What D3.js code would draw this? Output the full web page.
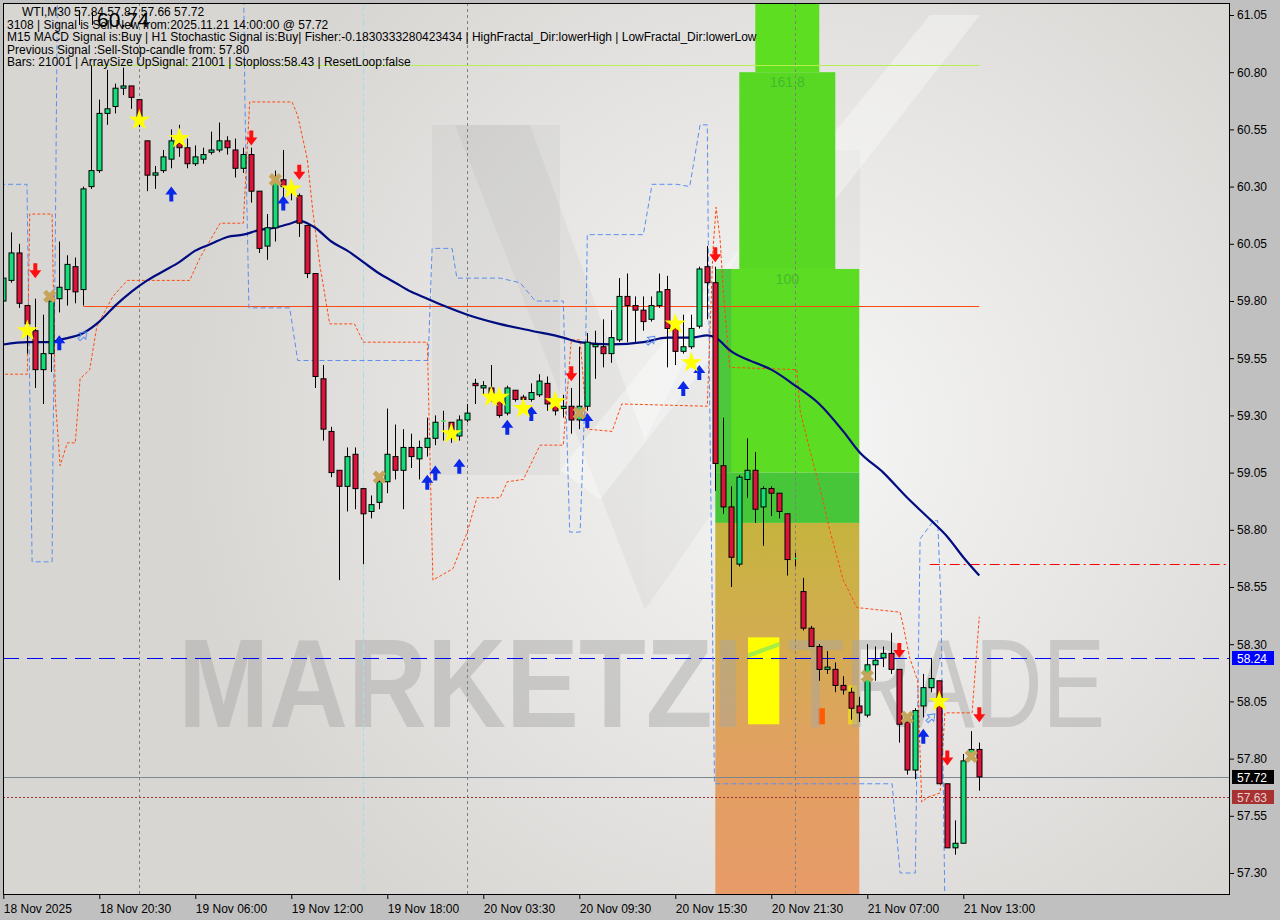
<!DOCTYPE html>
<html><head><meta charset="utf-8">
<script src="https://cdn.jsdelivr.net/npm/d3@7"></script>
<style>
body{margin:0;background:#c0c0c0;}
svg{display:block;font-family:"Liberation Sans",Arial,sans-serif;}
</style>
</head><body>
<svg id="c" width="1280" height="920"></svg>
<script>
// ---------------- DATA ----------------
const opens  = [59.80,59.89,60.01,59.78,59.67,59.50,59.57,59.81,59.85,59.95,59.85,60.30,60.37,60.62,60.65,60.73,60.74,60.68,60.50,60.35,60.37,60.42,60.49,60.47,60.40,60.42,60.45,60.46,60.50,60.46,60.38,60.44,60.28,60.04,60.12,60.33,60.30,60.26,60.13,59.92,59.46,59.23,59.06,58.99,59.13,58.98,58.88,58.92,59.01,59.12,59.06,59.16,59.11,59.16,59.20,59.27,59.27,59.21,59.28,59.44,59.42,59.42,59.38,59.31,59.41,59.38,59.37,59.39,59.44,59.35,59.33,59.34,59.28,59.34,59.60,59.60,59.57,59.63,59.82,59.78,59.76,59.72,59.78,59.85,59.68,59.58,59.60,59.69,59.95,59.88,59.08,58.90,58.65,59.02,59.06,58.90,58.98,58.96,58.87,58.67,58.53,58.37,58.29,58.19,58.19,58.12,58.09,58.03,57.99,58.21,58.24,58.26,58.19,57.96,57.75,58.03,58.11,58.14,57.69,57.41,57.43,57.82,57.84];
const highs  = [59.91,60.10,60.05,59.78,59.81,59.74,59.84,60.06,60.00,59.99,60.30,60.83,60.68,60.81,60.75,60.82,60.74,60.68,60.50,60.39,60.46,60.55,60.57,60.51,60.48,60.47,60.54,60.58,60.52,60.51,60.47,60.47,60.28,60.18,60.37,60.46,60.33,60.27,60.13,59.92,59.52,59.25,59.06,59.16,59.16,58.98,58.95,59.04,59.33,59.26,59.24,59.22,59.19,59.29,59.30,59.32,59.27,59.30,59.35,59.46,59.45,59.52,59.41,59.43,59.41,59.39,59.44,59.48,59.47,59.40,59.39,59.42,59.60,59.66,59.67,59.72,59.76,59.90,59.92,59.82,59.82,59.82,59.92,59.91,59.73,59.74,59.74,59.95,60.04,59.95,59.29,58.99,59.04,59.20,59.14,58.99,58.99,58.96,58.87,58.70,58.59,58.38,58.30,58.27,58.22,58.16,58.11,58.07,58.30,58.29,58.29,58.35,58.19,57.96,58.02,58.17,58.24,58.14,57.69,57.53,57.82,57.92,57.87];
const lows   = [59.78,59.88,59.77,59.57,59.42,59.35,59.49,59.75,59.78,59.79,59.78,60.29,60.36,60.57,60.62,60.70,60.64,60.56,60.28,60.29,60.36,60.38,60.43,60.38,60.39,60.40,60.44,60.45,60.44,60.34,60.36,60.23,60.01,59.98,60.06,60.23,60.24,60.08,59.90,59.42,59.19,59.03,58.58,58.88,58.89,58.65,58.85,58.89,58.96,59.02,58.89,59.07,59.02,59.12,59.17,59.19,59.18,59.19,59.27,59.35,59.39,59.36,59.29,59.30,59.36,59.34,59.36,59.38,59.32,59.30,59.29,59.22,59.24,59.32,59.46,59.51,59.53,59.62,59.62,59.62,59.67,59.71,59.77,59.51,59.52,59.57,59.59,59.68,59.72,58.97,58.87,58.55,58.64,58.94,58.83,58.73,58.86,58.85,58.60,58.64,58.36,58.29,58.14,58.17,58.09,58.08,57.97,57.96,57.98,58.14,58.20,58.17,57.87,57.73,57.71,57.98,58.09,57.69,57.41,57.38,57.43,57.81,57.66];
const closes = [59.90,60.01,59.79,59.70,59.50,59.57,59.80,59.86,59.96,59.84,60.29,60.37,60.62,60.64,60.73,60.74,60.69,60.60,60.35,60.36,60.43,60.50,60.47,60.40,60.43,60.44,60.46,60.50,60.47,60.38,60.44,60.28,60.03,60.12,60.33,60.30,60.29,60.14,59.92,59.47,59.24,59.05,58.99,59.12,58.98,58.87,58.91,59.01,59.13,59.06,59.16,59.12,59.16,59.20,59.27,59.275,59.23,59.28,59.31,59.43,59.43,59.38,59.30,59.42,59.37,59.37,59.40,59.45,59.35,59.32,59.34,59.28,59.34,59.62,59.61,59.57,59.64,59.82,59.78,59.76,59.71,59.78,59.84,59.68,59.58,59.60,59.68,59.94,59.88,59.09,58.90,58.68,59.03,59.06,58.89,58.98,58.96,58.88,58.67,58.675,58.37,58.29,58.19,58.20,58.12,58.10,58.02,58.00,58.21,58.23,58.26,58.19,57.95,57.75,58.01,58.11,58.15,57.69,57.41,57.43,57.79,57.84,57.72];

// moving average (read at selected bars)
const maBars = [0,3,6,7,10,12,14,16,18,20,22,24,26,28,30,32,34,36,37,38,39,41,43,45,47,49,51,53,55,58,62,66,70,72,76,80,83,86,88,89,91,94,96,99,102,105,107,110,113,116,118,120,122];
const maVals = [59.61,59.62,59.62,59.63,59.66,59.71,59.78,59.84,59.89,59.93,59.97,60.02,60.05,60.08,60.09,60.11,60.12,60.14,60.15,60.14,60.12,60.06,60.02,59.97,59.92,59.88,59.84,59.81,59.78,59.74,59.70,59.67,59.64,59.62,59.61,59.62,59.64,59.64,59.65,59.64,59.58,59.53,59.50,59.43,59.35,59.23,59.14,59.05,58.94,58.84,58.77,58.68,58.60];

// fractal channels [bar, price]
const highChannel = [[-0.4,60.31],[2.96,60.31],[3.1,59.94],[3.6,58.66],[6.1,58.66],[6.2,59.11],[6.5,60.06],[6.8,61.3],[30,61.3],[30.2,60.68],[30.7,59.77],[35.8,59.77],[36.8,59.54],[53.1,59.54],[53.6,60.03],[56.1,60.03],[56.7,59.90],[62.1,59.90],[64.6,59.88],[66.5,59.80],[70,59.80],[70.5,59.15],[70.8,58.79],[72.1,58.79],[72.7,59.37],[73,60.09],[80,60.09],[81.1,60.31],[84.2,60.31],[85.8,60.30],[87.1,60.57],[88,60.57],[88.3,59.35],[88.9,57.69],[111.1,57.69],[112.1,57.30],[114,57.30],[114.6,58.76],[116.3,58.84],[116.8,58.84],[117.2,58.49],[117.7,57.15]];
const lowChannel = [[-0.4,59.48],[3,59.48],[3.3,60.18],[6.1,60.18],[6.5,59.37],[7.1,59.08],[8,59.18],[9,59.18],[9.6,59.46],[10.8,59.50],[11.7,59.69],[13.7,59.82],[15.5,59.89],[23.3,59.89],[24.6,59.99],[27.1,60.14],[30,60.14],[30.8,60.67],[36.1,60.67],[36.8,60.61],[38,60.42],[38.7,60.19],[39.6,59.95],[40.8,59.70],[43.9,59.70],[45,59.62],[53,59.62],[53.7,58.58],[56.2,58.63],[58,58.79],[59.2,58.94],[62.1,58.94],[63,59.01],[65,59.02],[67.1,59.17],[70,59.17],[71,59.63],[72.1,59.63],[73,59.24],[76.1,59.23],[77.3,59.35],[88,59.34],[88.7,60.02],[89.1,60.21],[89.6,60.07],[90,59.84],[90.8,59.51],[99.2,59.50],[99.6,59.32],[100.8,59.15],[102.1,58.98],[103.3,58.80],[105,58.58],[106.7,58.46],[112.1,58.44],[112.5,58.38],[113.3,58.24],[114.3,58.14],[114.8,57.61],[115.5,57.63],[117.1,57.65],[117.7,58.00],[121.1,58.00],[122,58.42]];

// fibo projection zones (bars and prices)
const zoneFrom   = [94, 92, 89, 89, 89, 89];
const zoneTo     = [102, 104, 107, 107, 107, 91];
const zoneTop    = [61.30, 60.80, 59.94, 59.05, 58.83, 59.94];
const zoneBottom = [60.80, 59.94, 59.05, 58.83, 57.10, 59.05];
const zoneLabels = [["161.8",60.78],["100",59.92]];
const yellowBox  = [93.1, 97, 58.33, 57.95];

// horizontal levels
const bidPrice = 57.72, askLine = 57.63, bluePrice = 58.24, stopLine = 58.65;
const supportLevel = [10, 122, 59.78];
const resistLevel  = [11, 122, 60.83];

// period separators (bars)
const separators = [17, 58, 99];
const daySeparator = [45];

// signal markers [bar, price]
const sellArrows = [[4,59.93],[31,60.51],[37,60.36],[71,59.48],[89,60.00],[112,58.27],[118,57.80],[122,57.99]];
const buyArrows  = [[7,59.62],[21,60.27],[35,60.23],[53,59.01],[54,59.05],[57,59.08],[63,59.25],[66,59.31],[73,59.28],[85,59.42],[87,59.49],[115,57.90]];
const hollowArrows = [[10,59.65],[81,59.63],[116,57.98]];
const stars = [[3,59.67],[17,60.59],[22,60.51],[36,60.29],[56,59.22],[61,59.38],[62,59.38],[65,59.33],[69,59.36],[84,59.70],[86,59.53],[117,58.05]];
const crosses = [[5.8,59.82],[34,60.33],[47,59.03],[72,59.31],[108,58.16],[113,57.98],[121,57.81]];

// axes
const priceTicks = [57.30,57.55,57.80,58.05,58.30,58.55,58.80,59.05,59.30,59.55,59.80,60.05,60.30,60.55,60.80,61.05];
const timeTickBars = [0,12,24,36,48,60,72,84,96,108,120];
const timeLabels = ["18 Nov 2025","18 Nov 20:30","19 Nov 06:00","19 Nov 12:00","19 Nov 18:00","20 Nov 03:30","20 Nov 09:30","20 Nov 15:30","20 Nov 21:30","21 Nov 07:00","21 Nov 13:00"];

const infoLines = [
 "3108 | Signal is Sell New from:2025.11.21 14:00:00 @ 57.72",
 "M15 MACD Signal is:Buy | H1 Stochastic Signal is:Buy| Fisher:-0.1830333280423434 | HighFractal_Dir:lowerHigh | LowFractal_Dir:lowerLow",
 "Previous Signal :Sell-Stop-candle from: 57.80",
 "Bars: 21001 | ArraySize UpSignal: 21001 | Stoploss:58.43 | ResetLoop:false"
];

// ---------------- DRAW ----------------
const svg = d3.select('#c');
const PL=3, PR=1230, PT=3, PB=895;
const x = d3.scaleLinear().domain([0,122]).range([3.3,979.3]);
const y = d3.scaleLinear().domain([57.30,61.05]).range([873,15]);

const defs = svg.append('defs');
defs.append('clipPath').attr('id','clip').append('rect')
  .attr('x',PL).attr('y',PT).attr('width',PR-PL).attr('height',PB-PT);
const rg = defs.append('radialGradient').attr('id','bg').attr('gradientUnits','userSpaceOnUse')
  .attr('cx',800).attr('cy',430).attr('r',620);
rg.append('stop').attr('offset',0).attr('stop-color','#f6f6f6');
rg.append('stop').attr('offset',0.55).attr('stop-color','#e6e5e3');
rg.append('stop').attr('offset',1).attr('stop-color','#d8d6d3');
const og = defs.append('linearGradient').attr('id','org').attr('x1',0).attr('y1',0).attr('x2',0).attr('y2',1);
og.append('stop').attr('offset',0).attr('stop-color','#c6b43e');
og.append('stop').attr('offset',0.3).attr('stop-color','#d3ac52');
og.append('stop').attr('offset',0.6).attr('stop-color','#e2a062');
og.append('stop').attr('offset',1).attr('stop-color','#e89a6a');

svg.append('rect').attr('x',0).attr('y',0).attr('width',1280).attr('height',920).attr('fill','#c0c0c0');
svg.append('rect').attr('x',PL).attr('y',PT).attr('width',PR-PL).attr('height',PB-PT).attr('fill','url(#bg)');

const g = svg.append('g').attr('clip-path','url(#clip)');

// logo watermark shapes (decorative)
const logo = g.append('g');
logo.append('polygon').attr('points','432,125 560,125 560,475 432,475').attr('fill','#000').attr('opacity',0.035);
logo.append('polygon').attr('points','455,125 530,125 645,440 645,610').attr('fill','#000').attr('opacity',0.035);
logo.append('polygon').attr('points','645,610 645,440 790,150 860,150 860,300').attr('fill','#000').attr('opacity',0.03);
logo.append('polygon').attr('points','560,470 930,15 980,15 600,500').attr('fill','#fff').attr('opacity',0.35);

// fibo zones
const zoneFill = ['#5ede20','#58d822','#5cdc22','#48c63a','url(#org)','#4cc83a'];
zoneFrom.forEach((f,i)=>{
  g.append('rect').attr('x',x(f)).attr('width',x(zoneTo[i])-x(f))
   .attr('y',y(zoneTop[i])).attr('height',y(zoneBottom[i])-y(zoneTop[i]))
   .attr('fill',zoneFill[i]);
});
zoneLabels.forEach(d=>{
  g.append('text').attr('x',x(98)).attr('y',y(d[1])).attr('dy','0.75em')
   .attr('text-anchor','middle').attr('font-size',14).attr('fill','#36a836').attr('opacity',0.6).text(d[0]);
});
g.append('rect').attr('x',x(yellowBox[0])).attr('width',x(yellowBox[1])-x(yellowBox[0]))
  .attr('y',y(yellowBox[2])).attr('height',y(yellowBox[3])-y(yellowBox[2])).attr('fill','#ffff00');
g.append('polygon').attr('points',[[x(yellowBox[0]),y(58.26)],[x(yellowBox[1]),y(58.31)],[x(yellowBox[1]),y(58.29)],[x(yellowBox[0]),y(58.24)]].join(' '))
  .attr('fill','#a8f040');
g.append('rect').attr('x',x(101.9)).attr('width',x(102.7)-x(101.9)).attr('y',y(58.02)).attr('height',y(57.95)-y(58.02)).attr('fill','#ff5a00');
g.append('rect').attr('x',x(105.6)).attr('width',x(106.7)-x(105.6)).attr('y',y(58.12)).attr('height',y(57.95)-y(58.12)).attr('fill','#f0d020');

// watermark text
const wm = g.append('g').attr('fill','#a6a6a6').attr('opacity',0.45);
wm.append('text').attr('x',178).attr('y',727).attr('font-size',126).attr('font-weight','bold')
  .attr('textLength',565).attr('lengthAdjust','spacingAndGlyphs').text('MARKETZI');
wm.append('text').attr('x',787).attr('y',727).attr('font-size',126)
  .attr('textLength',318).attr('lengthAdjust','spacingAndGlyphs').text('TRADE');

// separators
separators.forEach(b=>{
  g.append('line').attr('x1',x(b)).attr('x2',x(b)).attr('y1',PT).attr('y2',PB)
   .attr('stroke','#808080').attr('stroke-dasharray','3,3').attr('shape-rendering','crispEdges');
});
daySeparator.forEach(b=>{
  g.append('line').attr('x1',x(b)).attr('x2',x(b)).attr('y1',PT).attr('y2',PB)
   .attr('stroke','#a8dcea').attr('stroke-dasharray','8,3,2,3').attr('shape-rendering','crispEdges');
});

// horizontal levels
function hline(p,x1,x2,color,dash,w){
  g.append('line').attr('x1',x1).attr('x2',x2).attr('y1',Math.round(y(p))+0.5).attr('y2',Math.round(y(p))+0.5)
   .attr('stroke',color).attr('stroke-width',w||1).attr('stroke-dasharray',dash||null);
}
hline(supportLevel[2], x(supportLevel[0]), x(supportLevel[1]), '#ff4a10');
hline(resistLevel[2], x(resistLevel[0]), x(resistLevel[1]), '#b4f050');
hline(bluePrice, PL, PR, '#0000ff', '16,8');
hline(bidPrice, PL, PR, '#7c8792');
hline(askLine, PL, PR, '#a03232', '2,2');
hline(stopLine, x(115.8), PR, '#ff0000', '10,4,2,4', 1.2);

// channels
const ln = d3.line().x(d=>x(d[0])).y(d=>y(d[1]));
g.append('path').attr('d',ln(highChannel)).attr('fill','none').attr('stroke','#5a8ef0').attr('stroke-dasharray','5,3');
g.append('path').attr('d',ln(lowChannel)).attr('fill','none').attr('stroke','#ff4a10').attr('stroke-dasharray','3,2');

// MA
const maData = maBars.map((b,i)=>[b,maVals[i]]);
g.append('path').attr('d',d3.line().x(d=>x(d[0])).y(d=>y(d[1])).curve(d3.curveMonotoneX)(maData))
  .attr('fill','none').attr('stroke','#000c80').attr('stroke-width',2.2);

// candles
const cg = g.append('g');
opens.forEach((o,i)=>{
  const c=closes[i], cx=Math.round(x(i))+0.5;
  cg.append('line').attr('x1',cx).attr('x2',cx).attr('y1',y(highs[i])).attr('y2',y(lows[i]))
    .attr('stroke','#000').attr('stroke-width',1);
  const top=y(Math.max(o,c)), bot=y(Math.min(o,c));
  if (bot-top < 1.5) {
    cg.append('line').attr('x1',cx-2.5).attr('x2',cx+2.5).attr('y1',top).attr('y2',top)
      .attr('stroke', c>=o?'#52e060':'#000').attr('stroke-width',1.5);
  } else {
    cg.append('rect').attr('x',cx-2.5).attr('width',5).attr('y',top).attr('height',bot-top)
      .attr('fill', c>=o ? '#14dc78' : '#dc143c').attr('stroke','#000').attr('stroke-width',1);
  }
});

// markers
const mg = g.append('g');
const arrowPath = 'M-2,-8 L2,-8 L2,-1 L6,-1 L0,7 L-6,-1 L-2,-1 Z';
sellArrows.forEach(d=>{
  mg.append('path').attr('d',arrowPath).attr('transform',`translate(${x(d[0])},${y(d[1])})`).attr('fill','#ff1010');
});
buyArrows.forEach(d=>{
  mg.append('path').attr('d',arrowPath).attr('transform',`translate(${x(d[0])},${y(d[1])}) scale(1,-1)`).attr('fill','#0a28e8');
});
hollowArrows.forEach(d=>{
  mg.append('path').attr('d','M-1.5,-6 L1.5,-6 L1.5,-1 L4.5,-1 L0,5 L-4.5,-1 L-1.5,-1 Z')
    .attr('transform',`translate(${x(d[0])},${y(d[1])}) rotate(-135)`).attr('fill','none').attr('stroke','#5a8ef0').attr('stroke-width',1);
});
stars.forEach(d=>{
  mg.append('path').attr('d',d3.symbol(d3.symbolStar,140)()).attr('transform',`translate(${x(d[0])},${y(d[1])})`).attr('fill','#ffff00');
});
crosses.forEach(d=>{
  mg.append('path').attr('d',d3.symbol(d3.symbolCross,110)()).attr('transform',`translate(${x(d[0])},${y(d[1])}) rotate(45)`).attr('fill','#c6a45a');
});

// header texts
const tg = svg.append('g').attr('font-size',12).attr('fill','#000');
tg.append('text').attr('x',22).attr('y',16).text('WTI,M30  57.84 57.87 57.66 57.72');
infoLines.forEach((t,i)=>tg.append('text').attr('x',7).attr('y',29+i*12.3).text(t));
svg.append('text').attr('x',97).attr('y',27).attr('font-size',21).attr('fill','#000').text('60.74');
svg.append('line').attr('x1',79.5).attr('x2',79.5).attr('y1',10).attr('y2',25).attr('stroke','#000');
svg.append('line').attr('x1',92.5).attr('x2',92.5).attr('y1',12).attr('y2',25).attr('stroke','#000');

// frame
svg.append('rect').attr('x',PL+0.5).attr('y',PT+0.5).attr('width',PR-PL-1).attr('height',PB-PT-1)
  .attr('fill','none').attr('stroke','#000').attr('stroke-width',1);

// axes
const ya = svg.append('g').attr('transform',`translate(${PR},0)`)
  .call(d3.axisRight(y).tickValues(priceTicks).tickSize(4).tickPadding(3).tickFormat(d3.format('.2f')));
ya.select('.domain').remove();
ya.selectAll('text').attr('font-size',12).attr('fill','#000').attr('font-family','"Liberation Sans",Arial,sans-serif');
ya.selectAll('line').attr('stroke','#000');

const xa = svg.append('g').attr('transform',`translate(0,${PB})`)
  .call(d3.axisBottom(x).tickValues(timeTickBars).tickSize(4).tickPadding(5).tickFormat((d,i)=>timeLabels[i]));
xa.select('.domain').remove();
xa.selectAll('text').attr('text-anchor','start').attr('font-size',12).attr('fill','#000').attr('font-family','"Liberation Sans",Arial,sans-serif');
xa.selectAll('line').attr('stroke','#000');

// price labels on axis
function priceTag(p,bg,fg){
  const yy=Math.round(y(p));
  svg.append('rect').attr('x',PR+2).attr('y',yy-7).attr('width',42).attr('height',14).attr('fill',bg);
  svg.append('text').attr('x',PR+7).attr('y',yy+4.5).attr('font-size',12).attr('fill',fg).text(p.toFixed(2));
}
priceTag(bluePrice,'#0000ff','#ffffff');
priceTag(bidPrice,'#000000','#ffffff');
priceTag(askLine,'#a83232','#e8d0d0');
</script>
</body></html>
